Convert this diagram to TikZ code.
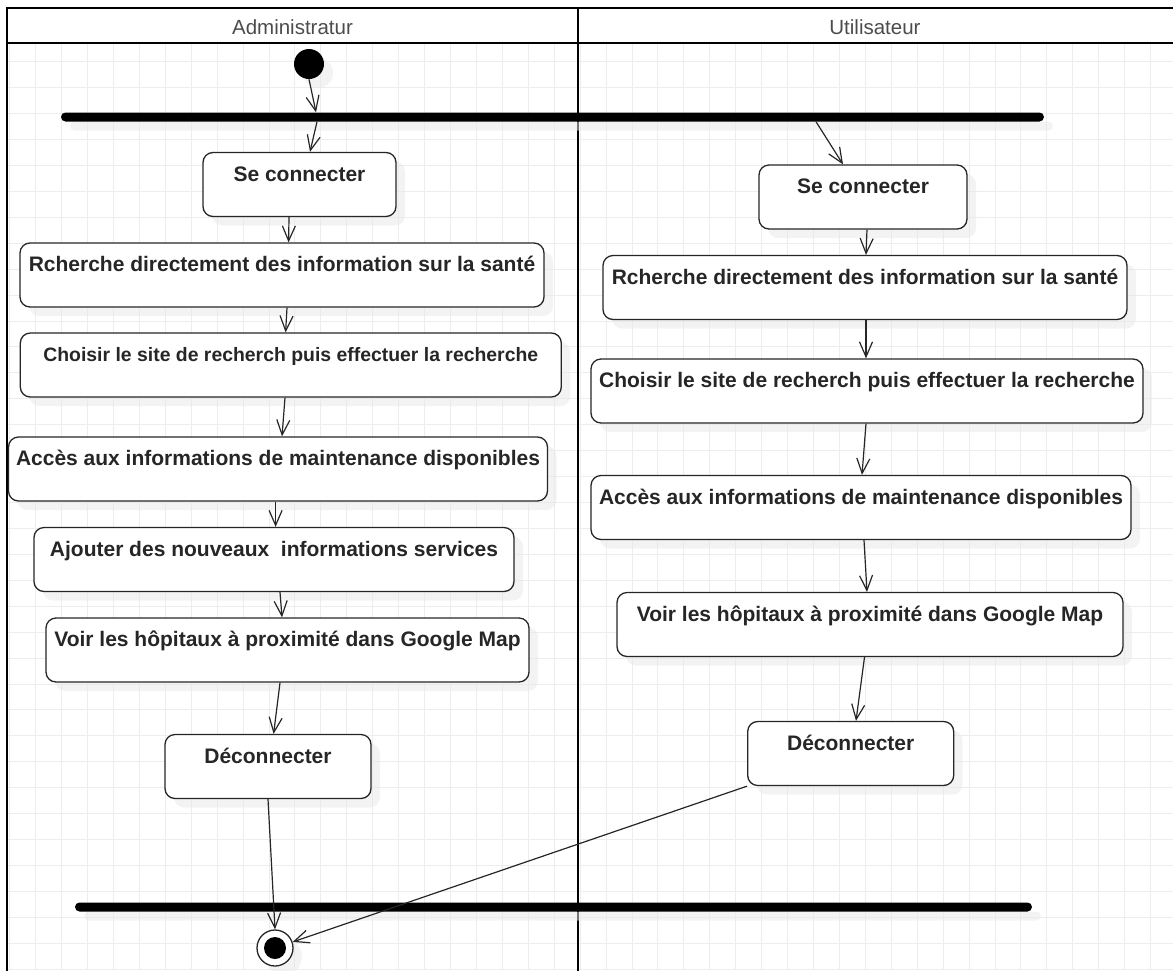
\documentclass[tikz,border=0pt]{standalone}
\usepackage{fontspec}
\setmainfont{Liberation Sans}
\usetikzlibrary{arrows.meta,shadows}

\begin{document}
\begin{tikzpicture}[x=1pt, y=-1pt, > = {Straight Barb[length=15pt,width=13pt]},
    lane/.style = {line width=2.5pt, line cap=rect},
    gridline/.style = {black!7, line width=1pt},
    shade/.style = {drop shadow={shadow xshift=9pt, shadow yshift=-9pt, fill=black!9}},
    act/.style = {draw=black!85, line width=1.3pt, rounded corners=10pt, fill=white, shade,
        font=\fontsize{21}{24}\selectfont\bfseries, text=black!85,
        inner xsep=0pt, inner ysep=0pt, text height=28.5pt, text depth=35.5pt},
    bar/.style = {fill=black, rounded corners=4.5pt, minimum height=9pt, inner sep=0pt, shade},
    flow/.style = {->, line width=1.2pt, black!85}]

    \useasboundingbox (0,0) rectangle (1173,970);

    % grid
    \begin{scope}
        \clip (7,43) rectangle (1173,970);
        \foreach \i in {0,...,45} \draw[gridline] ({9.7+25.93*\i},43) -- ({9.7+25.93*\i},970);
        \foreach \j in {0,...,36} \draw[gridline] (7,{35.8+25.93*\j}) -- (1173,{35.8+25.93*\j});
    \end{scope}

    % swimlanes
    \draw[lane] (7,975) -- (7,8) -- (1180,8);
    \draw[lane] (7,43) -- (1180,43);
    \draw[lane] (578,8) -- (578,975);
    \node[font=\fontsize{20.5}{24}\selectfont, text=black!70] (hadm) at (292.5,27) {Administratur};
    \node[font=\fontsize{20.5}{24}\selectfont, text=black!70] (husr) at (875,27) {Utilisateur};

    % start, fork, join, end
    \node[circle, fill=black, minimum size=30pt, inner sep=0pt, shade] (init) at (309,64) {};
    \node[bar, minimum width=983pt] (fork) at (552.5,117) {};
    \node[bar, minimum width=957pt] (join) at (553.5,907) {};
    \node[circle, draw=black!85, line width=1.3pt, fill=white, minimum size=36pt, inner sep=0pt, shade] (fin) at (275,948) {};
    \node[circle, fill=black, minimum size=22pt, inner sep=0pt] (finDot) at (fin) {};

    % administrateur
    \node[act, minimum width=193pt] (sc1) at (299.5,184.5) {Se connecter};
    \node[act, minimum width=524pt] (rc1) at (282,275) {Rcherche directement des information sur la santé};
    \node[act, minimum width=541pt, font=\fontsize{19.4}{22}\selectfont\bfseries] (ch1) at (290.8,365) {Choisir le site de recherch puis effectuer la recherche};
    \node[act, minimum width=539pt] (ac1) at (278,469) {Accès aux informations de maintenance disponibles};
    \node[act, minimum width=480pt] (aj1) at (274,559.5) {Ajouter des nouveaux\ \ informations services};
    \node[act, minimum width=483pt] (vo1) at (287.5,650) {Voir les hôpitaux à proximité dans Google Map};
    \node[act, minimum width=206pt] (de1) at (268,766.5) {Déconnecter};

    % utilisateur
    \node[act, minimum width=208pt] (sc2) at (863,197) {Se connecter};
    \node[act, minimum width=524pt] (rc2) at (865,287.5) {Rcherche directement des information sur la santé};
    \node[act, minimum width=552pt] (ch2) at (867,391) {Choisir le site de recherch puis effectuer la recherche};
    \node[act, minimum width=540pt] (ac2) at (861,507.5) {Accès aux informations de maintenance disponibles};
    \node[act, minimum width=506pt] (vo2) at (870,624.5) {Voir les hôpitaux à proximité dans Google Map};
    \node[act, minimum width=206pt] (de2) at (850.7,753.5) {Déconnecter};

    % transitions
    \draw[flow] (init.south) -- ([xshift=-236.5pt]fork.north);
    \draw[flow] ([xshift=-235.5pt]fork.south) -- ([xshift=10.5pt]sc1.north);
    \draw[flow] ([xshift=263.5pt]fork.south) -- ([xshift=-20pt]sc2.north);

    \draw[flow] ([xshift=-10.5pt]sc1.south) -- ([xshift=6.6pt]rc1.north);
    \draw[flow] ([xshift=5pt]rc1.south) -- ([xshift=-5.2pt]ch1.north);
    \draw[flow] ([xshift=-5.8pt]ch1.south) -- ([xshift=4pt]ac1.north);
    \draw[flow] ([xshift=-2.4pt]ac1.south) -- ([xshift=1.6pt]aj1.north);
    \draw[flow] ([xshift=6pt]aj1.south) -- ([xshift=-5.5pt]vo1.north);
    \draw[flow] ([xshift=-7.5pt]vo1.south) -- ([xshift=5.6pt]de1.north);
    \draw[flow] (de1.south) -- (fin.north);

    \draw[flow] ([xshift=4pt]sc2.south) -- ([xshift=1pt]rc2.north);
    \draw[flow] ([xshift=1pt]rc2.south) -- ([xshift=-1pt]ch2.north);
    \draw[flow] ([xshift=-1pt]ch2.south) -- ([xshift=1pt]ac2.north);
    \draw[flow] ([xshift=3pt]ac2.south) -- ([xshift=-3pt]vo2.north);
    \draw[flow] ([xshift=-5.5pt]vo2.south) -- ([xshift=5.3pt]de2.north);
    \draw[flow] (de2.south west) -- (fin);

\end{tikzpicture}
\end{document}
